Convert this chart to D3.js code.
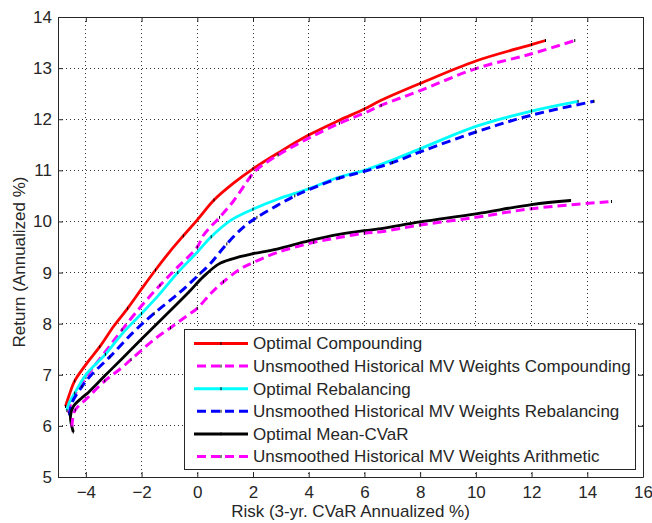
<!DOCTYPE html>
<html>
<head>
<meta charset="utf-8">
<script src="https://cdn.jsdelivr.net/npm/d3@7"></script>
<style>
  html, body { margin: 0; padding: 0; background: #fff; }
  svg { display: block; font-family: "Liberation Sans", Arial, Helvetica, sans-serif; }
</style>
</head>
<body>
<svg id="chart" width="652" height="523"></svg>
<script>
// ---- data ----
const xTicks = [-4, -2, 0, 2, 4, 6, 8, 10, 12, 14, 16];
const yTicks = [5, 6, 7, 8, 9, 10, 11, 12, 13, 14];

const seriesNames = [
  "Optimal Compounding",
  "Unsmoothed Historical MV Weights Compounding",
  "Optimal Rebalancing",
  "Unsmoothed Historical MV Weights Rebalancing",
  "Optimal Mean-CVaR",
  "Unsmoothed Historical MV Weights Arithmetic"
];

const riskOptComp = [-4.73, -4.6, -4.4, -4.0, -3.5, -3.0, -2.5, -2.0, -1.5, -1.0, -0.5, 0.0, 0.6, 1.3, 2.0, 2.9, 4.0, 5.1, 6.0, 6.6, 8.0, 10.0, 12.0, 12.5];
const retOptComp  = [6.38, 6.6, 6.88, 7.2, 7.55, 7.95, 8.3, 8.68, 9.05, 9.4, 9.72, 10.03, 10.42, 10.75, 11.03, 11.34, 11.69, 11.98, 12.2, 12.37, 12.7, 13.14, 13.46, 13.54];

const riskHistComp = [-4.62, -4.5, -4.0, -3.3, -2.7, -2.0, -1.34, -0.68, 0.0, 0.22, 0.8, 1.3, 1.9, 2.1, 2.9, 4.0, 5.1, 6.0, 6.6, 8.0, 10.0, 12.0, 13.55];
const retHistComp  = [6.25, 6.5, 6.95, 7.45, 7.88, 8.35, 8.75, 9.12, 9.5, 9.73, 10.08, 10.4, 10.87, 11.0, 11.3, 11.63, 11.92, 12.12, 12.27, 12.56, 12.99, 13.28, 13.54];

const riskOptReb = [-4.68, -4.6, -4.4, -4.0, -3.3, -2.7, -2.0, -1.4, -0.7, 0.0, 0.5, 1.2, 2.0, 2.9, 4.0, 5.1, 6.0, 7.0, 8.0, 10.0, 12.0, 13.67];
const retOptReb  = [6.3, 6.45, 6.64, 7.0, 7.4, 7.8, 8.2, 8.55, 9.0, 9.4, 9.7, 10.02, 10.24, 10.44, 10.64, 10.87, 11.0, 11.2, 11.42, 11.86, 12.16, 12.35];

const riskHistReb = [-4.58, -4.5, -4.14, -3.8, -3.14, -2.32, -1.55, -0.61, 0.1, 0.46, 1.06, 1.66, 2.14, 2.86, 3.5, 4.0, 5.1, 6.0, 7.0, 8.0, 10.0, 12.0, 14.24];
const retHistReb  = [6.2, 6.45, 6.77, 7.0, 7.35, 7.82, 8.2, 8.62, 8.98, 9.17, 9.56, 9.89, 10.08, 10.31, 10.5, 10.62, 10.85, 10.98, 11.15, 11.36, 11.75, 12.08, 12.35];

const riskOptCVaR = [-4.45, -4.53, -4.55, -4.45, -4.14, -3.9, -3.32, -2.73, -2.0, -1.2, -0.3, 0.22, 0.81, 1.53, 2.0, 2.86, 4.0, 5.14, 6.0, 6.6, 8.0, 10.0, 12.0, 13.4];
const retOptCVaR  = [5.88, 6.05, 6.2, 6.38, 6.55, 6.66, 6.98, 7.3, 7.7, 8.13, 8.62, 8.92, 9.18, 9.31, 9.37, 9.46, 9.62, 9.75, 9.82, 9.86, 9.99, 10.15, 10.33, 10.41];

const riskHistArith = [-4.5, -4.47, -4.38, -3.9, -3.32, -2.73, -2.38, -1.55, -0.96, -0.38, 0.0, 0.5, 0.94, 1.54, 2.02, 2.86, 4.18, 5.14, 6.0, 6.6, 8.0, 10.0, 12.0, 14.87];
const retHistArith  = [5.98, 6.15, 6.31, 6.57, 6.88, 7.13, 7.3, 7.69, 7.92, 8.15, 8.3, 8.6, 8.82, 9.07, 9.2, 9.39, 9.59, 9.69, 9.77, 9.8, 9.93, 10.08, 10.25, 10.39];

const seriesRisk = [riskOptComp, riskHistComp, riskOptReb, riskHistReb, riskOptCVaR, riskHistArith];
const seriesRet  = [retOptComp, retHistComp, retOptReb, retHistReb, retOptCVaR, retHistArith];
const seriesColors = ["#ff0000", "#ff00ff", "#00ffff", "#0000ff", "#000000", "#ff00ff"];
const seriesDashed = [false, true, false, true, false, true];

// ---- layout ----
const svg = d3.select("#chart");
const L = 58, T = 17, R = 643, B = 477;
const x = d3.scaleLinear().domain([-5, 16]).range([L, R]);
const y = d3.scaleLinear().domain([5, 14]).range([B, T]);
const axisColor = "#262626";
const textColor = "#262626";
const fontSize = 17;

// grid (dotted)
const grid = svg.append("g");
xTicks.forEach(v => {
  if (v >= 16) return;
  grid.append("line").attr("x1", x(v)).attr("x2", x(v)).attr("y1", T).attr("y2", B)
    .attr("stroke", "#333").attr("stroke-width", 1).attr("stroke-dasharray", "1,3").attr("shape-rendering", "crispEdges");
});
yTicks.forEach(v => {
  if (v <= 5) return;
  grid.append("line").attr("x1", L).attr("x2", R).attr("y1", y(v)).attr("y2", y(v))
    .attr("stroke", "#333").attr("stroke-width", 1).attr("stroke-dasharray", "1,3").attr("shape-rendering", "crispEdges");
});

// axes
const xAxisB = d3.axisBottom(x).tickValues(xTicks).tickSizeInner(-5).tickSizeOuter(0).tickPadding(9).tickFormat(d3.format("d"));
const xAxisT = d3.axisTop(x).tickValues(xTicks).tickSizeInner(-5).tickSizeOuter(0).tickFormat("");
const yAxisL = d3.axisLeft(y).tickValues(yTicks).tickSizeInner(-5).tickSizeOuter(0).tickPadding(6).tickFormat(d3.format("d"));
const yAxisR = d3.axisRight(y).tickValues(yTicks).tickSizeInner(-5).tickSizeOuter(0).tickFormat("");

function styleAxis(g) {
  g.selectAll("path").attr("stroke", axisColor).attr("stroke-width", 1);
  g.selectAll("line").attr("stroke", axisColor);
  g.selectAll("text").attr("fill", textColor).style("font-size", fontSize + "px")
    .style("font-family", '"Liberation Sans", Arial, sans-serif');
}
svg.append("g").attr("transform", `translate(0,${B})`).call(xAxisB).call(styleAxis);
svg.append("g").attr("transform", `translate(0,${T})`).call(xAxisT).call(styleAxis);
svg.append("g").attr("transform", `translate(${L},0)`).call(yAxisL).call(styleAxis);
svg.append("g").attr("transform", `translate(${R},0)`).call(yAxisR).call(styleAxis);

// axis labels
svg.append("text").attr("x", (L + R) / 2).attr("y", 517).attr("text-anchor", "middle")
  .style("font-size", fontSize + "px").attr("fill", textColor).text("Risk (3-yr. CVaR Annualized %)");
svg.append("text").attr("transform", `translate(25,262) rotate(-90)`).attr("text-anchor", "middle")
  .style("font-size", fontSize + "px").attr("fill", textColor).text("Return (Annualized %)");

// curves
const line = d3.line().x(d => x(d[0])).y(d => y(d[1])).curve(d3.curveCatmullRom.alpha(0.5));
const plot = svg.append("g");
seriesRisk.forEach((rs, i) => {
  const pts = rs.map((r, j) => [r, seriesRet[i][j]]);
  plot.append("path").datum(pts).attr("d", line)
    .attr("fill", "none").attr("stroke", seriesColors[i])
    .attr("stroke-width", seriesDashed[i] ? 3 : 2.8)
    .attr("stroke-dasharray", seriesDashed[i] ? "9,5" : null)
    .attr("stroke-linejoin", "round");
  plot.selectAll(null).data(pts.filter((d, j) => j % 2 === 0 || j === pts.length - 1)).enter().append("rect")
    .attr("x", d => x(d[0]) - 0.5).attr("y", d => y(d[1]) - 1.5).attr("width", 1).attr("height", 3)
    .attr("fill", "#000");
});

// legend
const lg = svg.append("g");
const lgX = 184, lgY = 329, lgW = 451, lgH = 140;
lg.append("rect").attr("x", lgX + 0.5).attr("y", lgY + 0.5).attr("width", lgW).attr("height", lgH)
  .attr("fill", "#fff").attr("stroke", axisColor).attr("stroke-width", 1);
const rowY = d3.scaleLinear().domain([0, 5]).range([343.5, 456.5]);
seriesNames.forEach((name, i) => {
  const yy = rowY(i);
  lg.append("line").attr("x1", 194).attr("x2", 248).attr("y1", yy).attr("y2", yy)
    .attr("stroke", seriesColors[i]).attr("stroke-width", 3)
    .attr("stroke-dasharray", seriesDashed[i] ? "9,5" : null)
    .attr("stroke-dashoffset", seriesDashed[i] ? -3 : null);
  lg.append("rect").attr("x", 220.5).attr("y", yy - 1.5).attr("width", 1).attr("height", 3).attr("fill", "#000");
  lg.append("text").attr("x", 253).attr("y", yy).attr("dy", "0.35em")
    .style("font-size", fontSize + "px").attr("fill", textColor).text(name);
});
</script>
</body>
</html>
